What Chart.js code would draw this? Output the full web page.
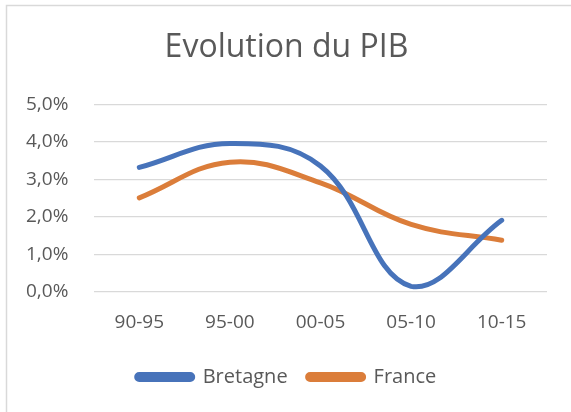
<!DOCTYPE html>
<html>
<head>
<meta charset="utf-8">
<script src="https://cdn.jsdelivr.net/npm/chart.js@4/dist/chart.umd.min.js"></script>
<style>
  html, body { margin: 0; padding: 0; background: #fff; overflow: hidden; }
  .chartBox { position: absolute; left: 0; top: 0; width: 571px; height: 412px; }
</style>
</head>
<body>
<div class="chartBox">
  <canvas id="myChart" width="571" height="412"></canvas>
</div>
<script>
const periods = ['90-95', '95-00', '00-05', '05-10', '10-15'];
const bretagne = [3.32, 3.96, 3.36, 0.15, 1.91];
const france = [2.51, 3.46, 2.91, 1.80, 1.38];
const yTicks = [0, 1, 2, 3, 4, 5];

const textColor = '#595959';
const gridColor = '#d9d9d9';
const fontName = 'Open Sans';

// light frame of the chart box (only top/left edges are visible)
const frame = {
  id: 'frame',
  beforeDraw(chart) {
    const ctx = chart.ctx;
    ctx.save();
    ctx.strokeStyle = '#d9d9d9';
    ctx.lineWidth = 1.5;
    ctx.beginPath();
    ctx.moveTo(6.5, 412);
    ctx.lineTo(6.5, 5.5);
    ctx.lineTo(571, 5.5);
    ctx.stroke();
    ctx.restore();
  }
};

const data = {
  labels: periods,
  datasets: [
    {
      label: 'Bretagne',
      data: bretagne,
      borderColor: '#4773BA',
      backgroundColor: '#4773BA',
      borderWidth: 5,
      borderCapStyle: 'round',
      pointRadius: 0,
      tension: 0.4,
    },
    {
      label: 'France',
      data: france,
      borderColor: '#DB7D3A',
      backgroundColor: '#DB7D3A',
      borderWidth: 5,
      borderCapStyle: 'round',
      pointRadius: 0,
      tension: 0.4,
    },
  ],
};

const config = {
  type: 'line',
  data,
  plugins: [frame],
  options: {
    responsive: false,
    animation: false,
    layout: { padding: { left: 26, right: 24, top: 0, bottom: 15 } },
    plugins: {
      title: {
        display: true,
        text: 'Evolution du PIB',
        color: textColor,
        font: { family: fontName, size: 32, weight: 'normal' },
        padding: { top: 29, bottom: 37 },
      },
      legend: {
        position: 'bottom',
        labels: {
          color: textColor,
          font: { family: fontName, size: 20 },
          boxWidth: 56,
          boxHeight: 5,
          useBorderRadius: true,
          borderRadius: 2.5,
          padding: 20,
        },
      },
      tooltip: { enabled: false },
    },
    scales: {
      x: {
        offset: true,
        grid: { display: false, drawTicks: false, tickLength: 0 },
        border: { display: false },
        ticks: {
          color: textColor,
          font: { family: fontName, size: 19 },
          padding: 19,
          maxRotation: 0,
        },
        afterFit(scale) { scale.height = 55; },
      },
      y: {
        min: 0,
        max: 5,
        afterBuildTicks(scale) { scale.ticks = yTicks.map(v => ({ value: v })); },
        grid: { color: gridColor, lineWidth: 1.3, drawTicks: false, tickLength: 0 },
        border: { display: false },
        ticks: {
          color: textColor,
          font: { family: fontName, size: 19 },
          crossAlign: 'far',
          callback: v => v.toFixed(1).replace('.', ',') + '%',
        },
        afterFit(scale) { scale.width = 68; },
      },
    },
  },
};

new Chart(document.getElementById('myChart'), config);
</script>
</body>
</html>
